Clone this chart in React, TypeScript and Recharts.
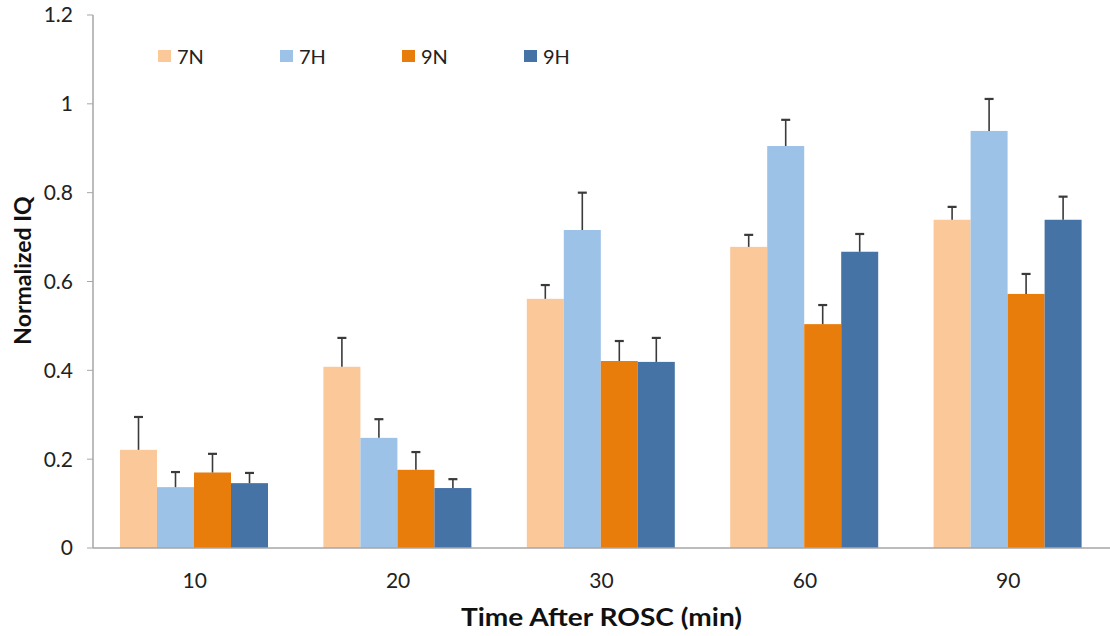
import React from "react";
import { BarChart, Bar, XAxis, YAxis, Legend, Label } from "recharts";

const times = ["10", "20", "30", "60", "90"];
const n7 = [0.221, 0.408, 0.561, 0.678, 0.739];
const h7 = [0.137, 0.248, 0.716, 0.905, 0.939];
const n9 = [0.17, 0.176, 0.421, 0.504, 0.572];
const h9 = [0.146, 0.135, 0.419, 0.667, 0.739];
const n7Err = [0.074, 0.065, 0.031, 0.027, 0.029];
const h7Err = [0.034, 0.042, 0.084, 0.059, 0.072];
const n9Err = [0.042, 0.04, 0.045, 0.043, 0.045];
const h9Err = [0.023, 0.02, 0.054, 0.04, 0.052];
const yTicks = [0, 0.2, 0.4, 0.6, 0.8, 1, 1.2];
const boundaryTicks = [0, 1, 2, 3, 4, 5];

const series = [
  { key: "n7", err: "n7Err", name: "7N", color: "#FBC899" },
  { key: "h7", err: "h7Err", name: "7H", color: "#9DC2E7" },
  { key: "n9", err: "n9Err", name: "9N", color: "#E97D0B" },
  { key: "h9", err: "h9Err", name: "9H", color: "#4673A5" },
];

const data = times.map((t, i) => ({
  time: t,
  n7: n7[i],
  h7: h7[i],
  n9: n9[i],
  h9: h9[i],
  n7Err: n7Err[i],
  h7Err: h7Err[i],
  n9Err: n9Err[i],
  h9Err: h9Err[i],
}));

const FONT = "Lato, 'Open Sans', sans-serif";
const AXIS = "#a6a6a6";

// bar + upward-only whisker; pixel size of the error comes from the bar's own scale
const barWithError = (fill: string, errKey: string) => (props: any) => {
  const { x, y, width, height, payload, value } = props;
  const v = Array.isArray(value) ? value[1] - value[0] : value;
  const perUnit = v ? height / v : 0;
  const e = (payload[errKey] || 0) * perUnit;
  const cx = x + width / 2;
  return (
    <g>
      <rect x={x} y={y} width={width} height={height} fill={fill} />
      <line x1={cx} y1={y} x2={cx} y2={y - e} stroke="#3a3a3a" strokeWidth={1.6} />
      <line x1={cx - 4.5} y1={y - e} x2={cx + 4.5} y2={y - e} stroke="#3a3a3a" strokeWidth={2.2} />
    </g>
  );
};

const LegendBox = () => (
  <div style={{ display: "flex", fontFamily: FONT, fontSize: 20, color: "#222" }}>
    {series.map((s) => (
      <div key={s.key} style={{ display: "flex", alignItems: "center", width: 122 }}>
        <span style={{ width: 13, height: 12, background: s.color, display: "inline-block", marginRight: 6 }} />
        <span>{s.name}</span>
      </div>
    ))}
  </div>
);

export default function App() {
  return (
    <div style={{ position: "absolute", left: 0, top: 0, width: 1110, height: 636, background: "#fff" }}>
      <BarChart
        width={1110}
        height={636}
        data={data}
        margin={{ top: 15, right: 0, left: 0, bottom: 0 }}
        barCategoryGap={27}
        barGap={0}
      >
        <XAxis
          xAxisId="axis0"
          type="number"
          domain={[0, 5]}
          ticks={boundaryTicks}
          tick={false}
          height={1}
          axisLine={{ stroke: AXIS, strokeWidth: 1.5 }}
          tickLine={{ stroke: AXIS }}
          tickSize={6}
        />
        <XAxis
          xAxisId="axis1"
          dataKey="time"
          height={87}
          axisLine={false}
          tickLine={false}
          tickMargin={18}
          tick={{ fontFamily: FONT, fontSize: 21, fill: "#222" }}
        >
          <Label
            content={({ viewBox }: any) => (
              <text
                x={viewBox.x + viewBox.width / 2}
                y={viewBox.y + 71}
                textAnchor="middle"
                dominantBaseline="middle"
                fontFamily={FONT}
                fontWeight={700}
                fontSize={24}
                textLength={281}
                lengthAdjust="spacingAndGlyphs"
                fill="#111"
              >
                Time After ROSC (min)
              </text>
            )}
          />
        </XAxis>
        <YAxis
          width={93}
          domain={[0, 1.2]}
          ticks={yTicks}
          interval={0}
          axisLine={{ stroke: AXIS, strokeWidth: 1.5 }}
          tickLine={{ stroke: AXIS }}
          tickSize={6}
          tickMargin={14}
          tick={{ fontFamily: FONT, fontSize: 21, fill: "#222" }}
        >
          <Label
            content={({ viewBox }: any) => {
              const cx = viewBox.x + 25;
              const cy = viewBox.y + viewBox.height / 2 - 11;
              return (
                <text
                  x={cx}
                  y={cy}
                  transform={`rotate(-90, ${cx}, ${cy})`}
                  textAnchor="middle"
                  dominantBaseline="middle"
                  fontFamily={FONT}
                  fontWeight={700}
                  fontSize={23}
                  fill="#111"
                >
                  Normalized IQ
                </text>
              );
            }}
          />
        </YAxis>
        <Legend
          layout="horizontal"
          verticalAlign="middle"
          align="center"
          wrapperStyle={{ top: 44, left: 158, width: "auto" }}
          content={() => <LegendBox />}
        />
        {series.map((s) => (
          <Bar
            key={s.key}
            xAxisId="axis1"
            dataKey={s.key}
            name={s.name}
            fill={s.color}
            isAnimationActive={false}
            shape={barWithError(s.color, s.err)}
          />
        ))}
      </BarChart>
    </div>
  );
}
